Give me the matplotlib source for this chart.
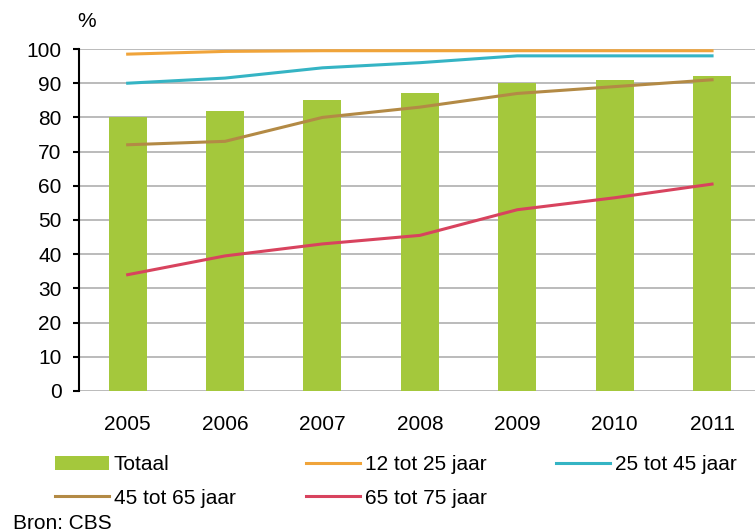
import matplotlib
matplotlib.use("Agg")
from matplotlib import pyplot as plt
import numpy as np

# internetgebruik per leeftijdsgroep
years = ["2005", "2006", "2007", "2008", "2009", "2010", "2011"]
totaal = [80, 82, 85, 87, 90, 91, 92]
leeftijd_12_25 = [98.5, 99.3, 99.5, 99.5, 99.5, 99.5, 99.5]
leeftijd_25_45 = [90, 91.5, 94.5, 96, 98, 98, 98]
leeftijd_45_65 = [72, 73, 80, 83, 87, 89, 91]
leeftijd_65_75 = [34, 39.5, 43, 45.5, 53, 56.5, 60.5]

plt.rcParams['font.family'] = ['Liberation Sans', 'DejaVu Sans']

def main():
    fs = 15
    fig = plt.figure(figsize=(7.55, 5.31), dpi=100)
    ax = fig.add_axes([0.1046, 0.2637, 0.903, 0.644])
    x = np.arange(len(years))

    bars = ax.bar(x, totaal, width=0.39, color="#a4c83c", zorder=2, label="Totaal")
    l1, = ax.plot(x, leeftijd_12_25, color="#f0a43a", lw=2.2, zorder=3, label="12 tot 25 jaar")
    l2, = ax.plot(x, leeftijd_25_45, color="#35b4c4", lw=2.2, zorder=3, label="25 tot 45 jaar")
    l3, = ax.plot(x, leeftijd_45_65, color="#b38a45", lw=2.2, zorder=3, label="45 tot 65 jaar")
    l4, = ax.plot(x, leeftijd_65_75, color="#d8435e", lw=2.2, zorder=3, label="65 tot 75 jaar")

    ax.set_xlim(-0.5, len(years) - 0.5)
    ax.set_ylim(0, 100)
    ax.set_yticks(range(0, 101, 10))
    ax.set_xticks(x)
    ax.set_xticklabels(years)
    ax.yaxis.grid(True, color="#a8a8a8", lw=1.1, zorder=0)
    ax.set_axisbelow(True)
    for s in ["top", "right", "bottom"]:
        ax.spines[s].set_visible(False)
    ax.spines["left"].set_linewidth(1.5)
    ax.tick_params(axis="y", length=4.5, width=1.5, labelsize=fs, pad=8)
    ax.tick_params(axis="x", length=0, labelsize=fs, pad=17)

    fig.text(0.102, 0.9586, "%", fontsize=fs, ha="left", va="center")

    handles = [bars, l3, l1, l4, l2]
    labels = [h.get_label() for h in handles]
    fig.legend(handles, labels, ncol=3, loc="upper left",
               bbox_to_anchor=(0.0728, 0.1426), frameon=False, fontsize=fs,
               handlelength=2.6, handletextpad=0.23, columnspacing=3.35,
               labelspacing=0.69, borderaxespad=0, borderpad=0)

    fig.text(0.017, 0.015, "Bron: CBS", fontsize=fs, ha="left", va="center")

    fig.savefig("out.png", dpi=100)
    plt.close()

if __name__ == '__main__':
    main()
